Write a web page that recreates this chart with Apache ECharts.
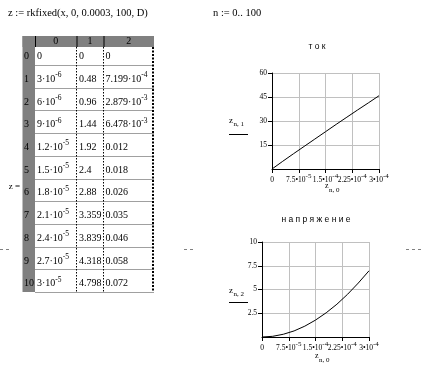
<!DOCTYPE html>
<html><head><meta charset="utf-8">
<script src="https://cdn.jsdelivr.net/npm/echarts@6/dist/echarts.min.js"></script>
<style>html,body{margin:0;padding:0;background:#fff}#c{width:421px;height:366px}</style>
</head><body><div id="c"></div>
<script>
// ---- data ----
const rowIndex = [0,1,2,3,4,5,6,7,8,9,10];
const colHeaders = ['0','1','2'];
const col0 = [0,3e-6,6e-6,9e-6,1.2e-5,1.5e-5,1.8e-5,2.1e-5,2.4e-5,2.7e-5,3e-5];
const col1 = [0,0.48,0.96,1.44,1.92,2.4,2.88,3.359,3.839,4.318,4.798];
const col2 = [0,7.199e-4,2.879e-3,6.478e-3,0.012,0.018,0.026,0.035,0.046,0.058,0.072];

const plotTime = [0,3e-5,6e-5,9e-5,1.2e-4,1.5e-4,1.8e-4,2.1e-4,2.4e-4,2.7e-4,3e-4];
const currentValues = [0,4.8,9.5,14.1,18.7,23.3,27.9,32.4,36.9,41.3,45.8];
const voltageValues = [0,0.072,0.29,0.64,1.14,1.78,2.55,3.45,4.5,5.68,6.97];

const xTickMantissa = ['0','7.5\u202210','1.5\u202210','2.25\u202210','3\u202210'];
const xTickExponent = ['','-5','-4','-4','-4'];

const titleCurrent = 'т о к';
const titleVoltage = 'н а п р я ж е н и е';
const formulaText = 'z := rkfixed(x, 0, 0.0003, 100, D)';
const rangeText = 'n := 0.. 100';

// ---- helpers ----
const serif = '"Liberation Serif","Times New Roman",serif';
const sans = '"Liberation Sans",Arial,sans-serif';

function mathcad(v){
  if (v === 0) return {m:'0', e:''};
  if (Math.abs(v) >= 0.01) return {m:String(+v.toPrecision(4)), e:''};
  const e = Math.floor(Math.log10(Math.abs(v)) + 1e-9);
  const mant = +(v/Math.pow(10,e)).toPrecision(4);
  return {m: mant + '\u00b710', e: String(e)};
}
function richOf(p){ return p.e ? '{m|'+p.m+'}{s|'+p.e+'}' : '{m|'+p.m+'}'; }

const G = [];
function txt(x,y,text,o){
  o = o || {};
  const st = {text:text, fill:'#000', fontFamily:o.family||serif, fontSize:o.size||10,
    align:o.align||'left', verticalAlign:'middle', textAlign:o.align||'left', textVerticalAlign:'middle'};
  if (o.rich) st.rich = o.rich;
  G.push({type:'text', x:x, y:y, z:20, silent:true, style:st});
}
function line(x1,y1,x2,y2,stroke,w,dash){
  G.push({type:'line', z:10, silent:true, shape:{x1:x1,y1:y1,x2:x2,y2:y2},
    style:{stroke:stroke, lineWidth:w||1, lineDash:dash||null}});
}
function rect(x,y,w,h,fill){
  G.push({type:'rect', z:5, silent:true, shape:{x:x,y:y,width:w,height:h}, style:{fill:fill}});
}

// ---- top texts ----
txt(8, 13, formulaText, {size:10.5});
txt(213, 13, rangeText, {size:10.5});
txt(20, 187, 'z =', {size:9, align:'right'});

// ---- table ----
const tx0 = 22.5, txi = 35, colEdges = [35, 76.5, 103.5, 154];
const tTop = 36, hdrBot = 47, row0Bot = 65, rowH = 22.7;
function rowTop(r){ return r === 0 ? hdrBot : row0Bot + (r-1)*rowH; }
function rowBot(r){ return r === 0 ? row0Bot : row0Bot + r*rowH; }
const tBottom = rowBot(rowIndex.length-1);

rect(tx0, tTop, colEdges[3]-tx0, hdrBot-tTop, '#808080');
rect(tx0, tTop, txi-tx0, tBottom-tTop, '#808080');
colHeaders.forEach(function(h,c){
  txt((colEdges[c]+colEdges[c+1])/2, (tTop+hdrBot)/2, h, {size:10, align:'center'});
  line(colEdges[c]+0.5, tTop, colEdges[c]+0.5, hdrBot, '#000', 1);
});
rowIndex.forEach(function(r){
  const yb = Math.round(rowBot(r)) + 0.5;
  line(txi, yb, colEdges[3], yb, '#a0a0a0', 1);
});
line(76.5, hdrBot, 76.5, tBottom, '#000', 1, [1.5,1.5]);
line(103.5, hdrBot, 103.5, tBottom, '#000', 1, [1.5,1.5]);
line(153, hdrBot, 153, tBottom, '#000', 2, [2,1.5]);

const cellRich = {
  m:{fontSize:10, fontFamily:serif, lineHeight:16, verticalAlign:'middle', fill:'#000', color:'#000'},
  s:{fontSize:7.5, fontFamily:serif, lineHeight:8, verticalAlign:'top', fill:'#000', color:'#000'}
};
const colX = [37, 79, 105.5];
const cols = [col0, col1, col2];
rowIndex.forEach(function(r){
  const yc = r === 0 ? (rowTop(0)+rowBot(0))/2 : (rowTop(r)+rowBot(r))/2 + 3;
  txt(24, yc, '{m|'+r+'}', {rich:cellRich});
  cols.forEach(function(col,c){
    txt(colX[c], yc, richOf(mathcad(col[r])), {rich:cellRich});
  });
});

// ---- region markers ----
line(0, 249.5, 9, 249.5, '#808080', 1, [3,3]);
line(184, 249.5, 194, 249.5, '#808080', 1, [3,3]);
line(406, 249.5, 421, 249.5, '#808080', 1, [3,3]);

// ---- plot titles and axis names ----
txt(317, 47, titleCurrent, {family:sans, size:8.5, align:'center'});
txt(316, 220, titleVoltage, {family:sans, size:8.5, align:'center'});

function fracLabel(x, y, sub, uy){
  txt(x, y, 'z', {size:9});
  txt(x+4.5, y+3, sub, {size:7});
  line(x, uy, x+19, uy, '#000', 1);
}
fracLabel(229, 121, 'n, 1', 134.5);
fracLabel(229, 291, 'n, 2', 302.5);
txt(325, 186, 'z', {size:8});
txt(329, 190, 'n, 0', {size:7});
txt(315, 356, 'z', {size:8});
txt(319, 360, 'n, 0', {size:7});

// ---- axes ----
function mkX(g){
  return {
    type:'value', gridIndex:g, min:0, max:3e-4, interval:7.5e-5,
    axisLine:{show:true, onZero:false, lineStyle:{color:'#000', width:1}},
    axisTick:{show:true, length:4, lineStyle:{color:'#000', width:1}},
    splitLine:{show:true, showMinLine:false, lineStyle:{color:'#c0c0c0', width:1}},
    axisLabel:{
      show:true, margin:4, hideOverlap:false, showMinLabel:true, showMaxLabel:true,
      formatter:function(v, i){
        const m = xTickMantissa[i] || '', e = xTickExponent[i] || '';
        return e ? '{m|'+m+'}{s|'+e+'}' : '{m|'+m+'}';
      },
      rich:{
        m:{fontSize:7.5, fontFamily:serif, lineHeight:14, verticalAlign:'middle', color:'#000'},
        s:{fontSize:7, fontFamily:serif, lineHeight:7, verticalAlign:'top', color:'#000'}
      }
    }
  };
}
function mkY(g, max, step){
  return {
    type:'value', gridIndex:g, min:0, max:max, interval:step,
    axisLine:{show:true, onZero:false, lineStyle:{color:'#000', width:1}},
    axisTick:{show:true, length:4, lineStyle:{color:'#000', width:1}},
    splitLine:{show:true, showMinLine:false, lineStyle:{color:'#c0c0c0', width:1}},
    axisLabel:{show:true, margin:5, showMinLabel:false, color:'#000', fontSize:7.5, fontFamily:serif}
  };
}

function pairs(xs, ys){ return xs.map(function(x,i){ return [x, ys[i]]; }); }

const chart = echarts.init(document.getElementById('c'), null, {renderer:'canvas'});
chart.setOption({
  animation:false,
  backgroundColor:'#fff',
  grid:[
    {left:272, top:73, width:107, height:96, containLabel:false, outerBoundsMode:'none'},
    {left:262, top:242, width:107, height:95, containLabel:false, outerBoundsMode:'none'}
  ],
  xAxis:[mkX(0), mkX(1)],
  yAxis:[mkY(0, 60, 15), mkY(1, 10, 2.5)],
  series:[
    {type:'line', xAxisIndex:0, yAxisIndex:0, data:pairs(plotTime, currentValues),
     symbol:'none', showSymbol:false, lineStyle:{color:'#000', width:1}, z:3},
    {type:'line', xAxisIndex:1, yAxisIndex:1, data:pairs(plotTime, voltageValues),
     symbol:'none', showSymbol:false, lineStyle:{color:'#000', width:1}, z:3}
  ],
  graphic:{elements:G}
});
</script></body></html>
